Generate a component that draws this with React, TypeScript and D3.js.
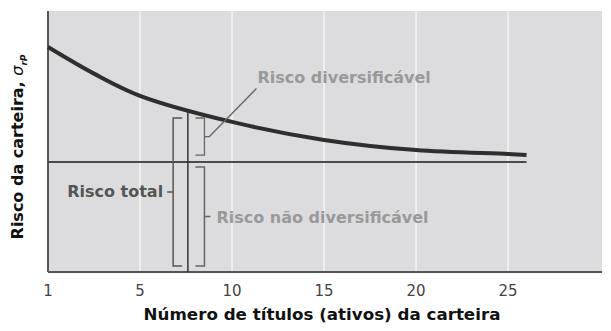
import React from "react";
import * as d3 from "d3";

const W = 611, H = 331;
const M = { left: 48, right: 9, top: 11, bottom: 59 };

// Number of securities (position on axis) and portfolio risk
const nSecurities = [0, 2.5, 5, 10, 15, 20, 25, 26];
const portfolioRisk = [86.2, 76, 67.5, 57.5, 50.6, 46.7, 45.2, 44.8];
const systematicRisk = 42.1;
const systematicEnd = 26;

const tickValues = [0, 5, 10, 15, 20, 25];
const tickLabels = ["1", "5", "10", "15", "20", "25"];

const markerX = 7.6;
const totalBracket = { x: 6.8, top: 59, bottom: 2.3, label: "Risco total" };
const divBracket = { x: 8.5, top: 59, bottom: 44.8, label: "Risco diversificável" };
const nonDivBracket = { x: 8.5, top: 40.2, bottom: 2.3, label: "Risco não diversificável" };

const FONT = "'DejaVu Sans', sans-serif";

export default function App() {
  const x = d3.scaleLinear().domain([0, 30.1]).range([M.left, W - M.right]);
  const y = d3.scaleLinear().domain([0, 100]).range([H - M.bottom, M.top]);
  const line = d3
    .line<number>()
    .x((_, i) => x(nSecurities[i]))
    .y((d) => y(d))
    .curve(d3.curveCatmullRom.alpha(0.5));
  const curveFn = (v: number) => {
    let i = 0;
    while (i < nSecurities.length - 2 && nSecurities[i + 1] < v) i++;
    const t = (v - nSecurities[i]) / (nSecurities[i + 1] - nSecurities[i]);
    return portfolioRisk[i] + t * (portfolioRisk[i + 1] - portfolioRisk[i]);
  };
  const bottom = H - M.bottom;
  const hook = 9;
  const bx = x(totalBracket.x);
  const dx = x(divBracket.x);
  const divMid = (y(divBracket.top) + y(divBracket.bottom)) / 2;
  const ndMid = (y(nonDivBracket.top) + y(nonDivBracket.bottom)) / 2;
  const totMid = (y(totalBracket.top) + y(totalBracket.bottom)) / 2 + 4;

  return (
    <svg width={W} height={H} style={{ position: "absolute", left: 0, top: 0, background: "#fff" }}>
      <rect x={M.left} y={M.top} width={W - M.right - M.left} height={bottom - M.top} fill="#dcdcde" />
      {tickValues.slice(1).map((t) => (
        <line key={t} x1={x(t)} x2={x(t)} y1={M.top} y2={bottom} stroke="#f4f4f4" strokeWidth={1.5} />
      ))}
      <line x1={M.left} x2={W - M.right} y1={bottom} y2={bottom} stroke="#555" strokeWidth={2} />
      <line x1={M.left} x2={M.left} y1={M.top} y2={bottom} stroke="#555" strokeWidth={2} />
      {tickValues.map((t, i) => (
        <text key={t} x={x(t)} y={bottom + 24} textAnchor="middle" fontFamily={FONT} fontSize={15} fill="#444">
          {tickLabels[i]}
        </text>
      ))}
      <line x1={M.left} x2={x(systematicEnd)} y1={y(systematicRisk)} y2={y(systematicRisk)} stroke="#4a4a4a" strokeWidth={2} />
      <path d={line(portfolioRisk) || ""} fill="none" stroke="#2e2e2e" strokeWidth={4} />
      <line x1={x(markerX)} x2={x(markerX)} y1={y(curveFn(markerX)) + 1} y2={bottom} stroke="#333" strokeWidth={1.5} />
      <path
        d={`M${bx + hook},${y(totalBracket.top)} H${bx} V${y(totalBracket.bottom)} H${bx + hook} M${bx},${totMid - 4} H${bx - 6}`}
        fill="none" stroke="#555" strokeWidth={1.5}
      />
      <text x={bx - 10} y={totMid + 1} textAnchor="end" fontFamily={FONT} fontWeight="bold" fontSize={16} fill="#555">
        {totalBracket.label}
      </text>
      <path
        d={`M${dx - hook},${y(divBracket.top)} H${dx} V${y(divBracket.bottom)} H${dx - hook} M${dx},${divMid} H${dx + 5} L${dx + 52},${divMid - 48}`}
        fill="none" stroke="#666" strokeWidth={1.3}
      />
      <text x={dx + 53} y={divMid - 54} fontFamily={FONT} fontWeight="bold" fontSize={16} fill="#999">
        {divBracket.label}
      </text>
      <path
        d={`M${dx - hook},${y(nonDivBracket.top)} H${dx} V${y(nonDivBracket.bottom)} H${dx - hook} M${dx},${ndMid} H${dx + 6}`}
        fill="none" stroke="#666" strokeWidth={1.5}
      />
      <text x={dx + 12} y={ndMid + 6} fontFamily={FONT} fontWeight="bold" fontSize={16} fill="#999">
        {nonDivBracket.label}
      </text>
      <text x={322} y={320} textAnchor="middle" fontFamily={FONT} fontWeight="bold" fontSize={16.7} fill="#111">
        Número de títulos (ativos) da carteira
      </text>
      <text transform={`translate(23,147) rotate(-90)`} textAnchor="middle" fontFamily={FONT} fontWeight="bold" fontSize={16} fill="#111">
        Risco da carteira,{" "}
        <tspan fontStyle="italic" fontWeight="normal">σ</tspan>
        <tspan fontSize={9} dy={4} fontStyle="italic">rP</tspan>
      </text>
    </svg>
  );
}
